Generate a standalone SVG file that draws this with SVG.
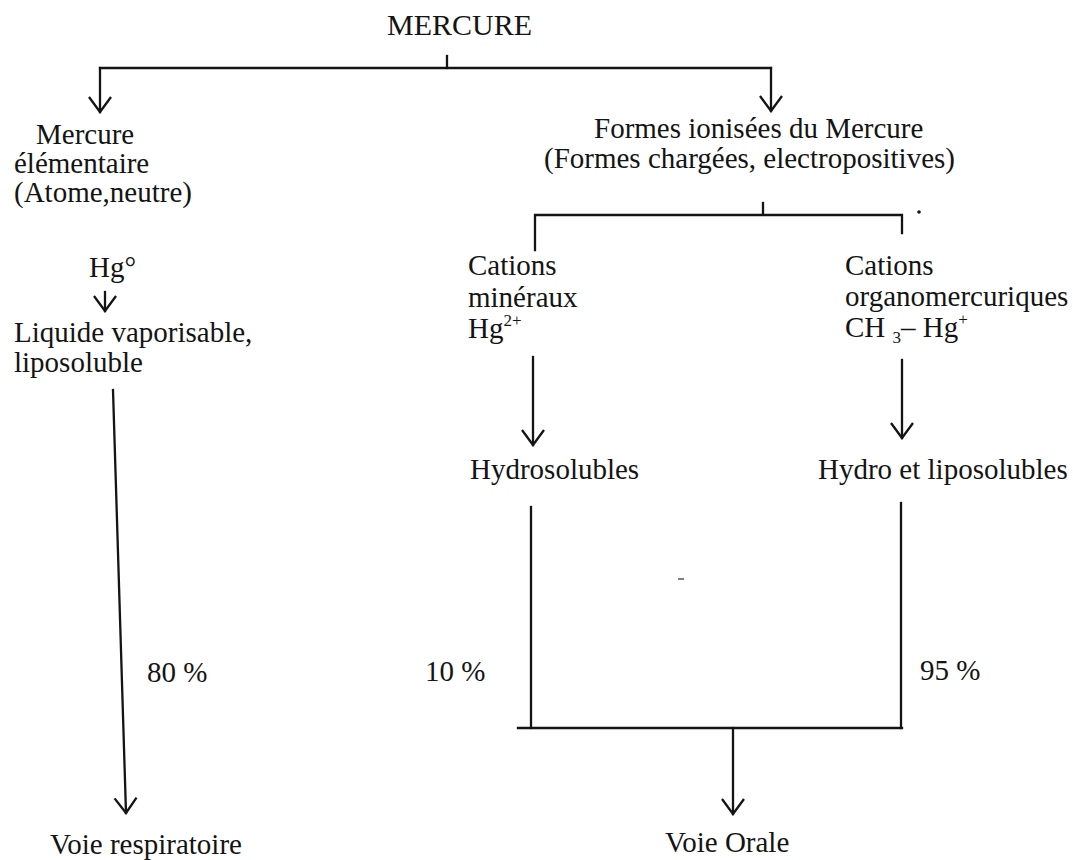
<svg xmlns="http://www.w3.org/2000/svg" width="1073" height="860" viewBox="0 0 1073 860">
<style>
text{font-family:"Liberation Serif","Times New Roman",serif;font-size:29px;fill:#141414}
.ln{stroke:#141414;stroke-width:2.3;fill:none;stroke-linecap:square}
.arr{marker-end:url(#ah)}
</style>
<defs>
<marker id="ah" viewBox="-16 -13 18 26" refX="0" refY="0" markerWidth="18" markerHeight="26" markerUnits="userSpaceOnUse" orient="auto">
<path d="M-15,-11 L0,0 L-15,11" fill="none" stroke="#141414" stroke-width="2.3"/>
</marker>
</defs>
<rect width="1073" height="860" fill="#ffffff"/>
<g id="connectors">
<line class="ln" x1="447" y1="56" x2="447" y2="68"/>
<polyline class="ln" points="100,68 771,68"/>
<line class="ln arr" x1="100" y1="68" x2="100" y2="112"/>
<line class="ln arr" x1="771" y1="68" x2="771" y2="111"/>
<line class="ln arr" x1="105" y1="292" x2="105" y2="311"/>
<line class="ln" x1="763" y1="203" x2="763" y2="214"/>
<polyline class="ln" points="535,250 535,215 902,215 902,233"/>
<line class="ln arr" x1="533" y1="357" x2="533" y2="445"/>
<line class="ln arr" x1="902" y1="360" x2="902" y2="438"/>
<line class="ln arr" x1="113" y1="390" x2="126" y2="813"/>
<polyline class="ln" points="531,507 531,728"/>
<polyline class="ln" points="901,503 901,728"/>
<line class="ln" x1="518" y1="728" x2="902" y2="728"/>
<line class="ln arr" x1="733" y1="728" x2="733" y2="814"/>
<circle cx="919" cy="212" r="1.8" fill="#141414"/>
<line x1="678" y1="579" x2="684" y2="579" stroke="#555" stroke-width="1.5"/>
</g>
<g id="mercure"><text x="387" y="35" style="font-size:30px">MERCURE</text></g>
<g id="elementaire">
<text x="36" y="144">Mercure</text>
<text x="14" y="173">élémentaire</text>
<text x="14" y="202">(Atome,neutre)</text>
</g>
<g id="ionisees">
<text x="594" y="138">Formes ionisées du Mercure</text>
<text x="544" y="168">(Formes chargées, electropositives)</text>
</g>
<g id="hg0"><text x="89" y="277">Hg°</text></g>
<g id="liquide">
<text x="14" y="342">Liquide vaporisable,</text>
<text x="14" y="372">liposoluble</text>
</g>
<g id="mineraux">
<text x="468" y="275">Cations</text>
<text x="468" y="307">minéraux</text>
<text x="468" y="338">Hg<tspan dy="-12" style="font-size:17px">2+</tspan></text>
</g>
<g id="organo">
<text x="845" y="275">Cations</text>
<text x="845" y="306">organomercuriques</text>
<text x="845" y="337">CH <tspan dy="6" style="font-size:17px">3</tspan><tspan dy="-6">– Hg</tspan><tspan dy="-12" style="font-size:17px">+</tspan></text>
</g>
<g id="hydrosolubles"><text x="470" y="479">Hydrosolubles</text></g>
<g id="hydrolipo"><text x="818" y="479">Hydro et liposolubles</text></g>
<g id="pct80"><text x="147" y="682">80 %</text></g>
<g id="pct10"><text x="425" y="681">10 %</text></g>
<g id="pct95"><text x="920" y="680">95 %</text></g>
<g id="respiratoire"><text x="50" y="854">Voie respiratoire</text></g>
<g id="orale"><text x="665" y="852">Voie Orale</text></g>
</svg>
